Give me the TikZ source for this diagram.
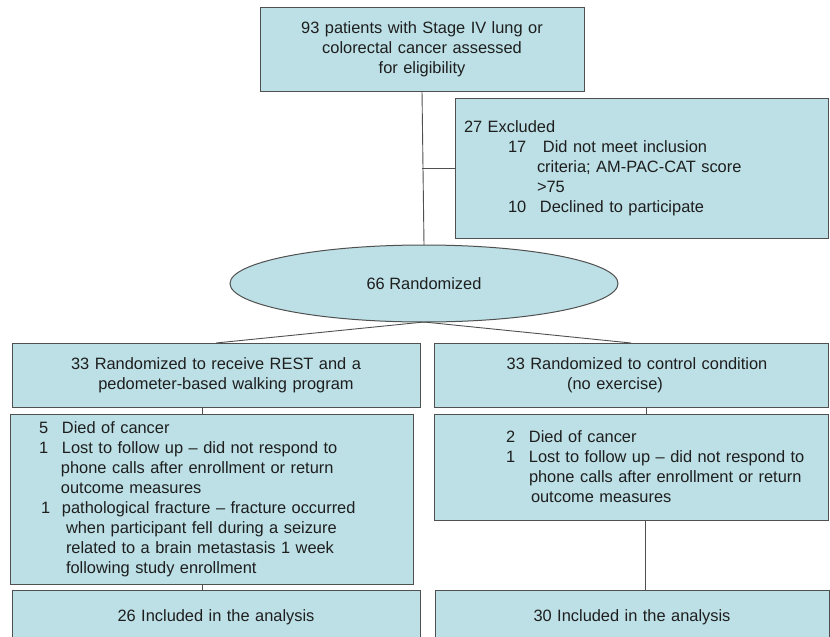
\documentclass[tikz,border=0pt]{standalone}
\usepackage{fontspec}
\setmainfont{Liberation Sans}
\usepackage{tikz}
\usetikzlibrary{shapes.geometric}
\definecolor{boxfill}{RGB}{188,224,230}
\definecolor{boxline}{RGB}{80,80,80}
\definecolor{inktext}{RGB}{30,30,30}

\begin{document}
\begin{tikzpicture}[x=1pt,y=-1pt,
  every node/.style={font=\fontsize{16.4}{20}\selectfont, text=inktext},
  flowbox/.style={draw=boxline, line width=1pt, fill=boxfill, inner xsep=0pt, inner ysep=0pt, outer sep=0pt},
  wire/.style={draw=boxline, line width=0.9pt}]
\useasboundingbox (0,0) rectangle (830,637);
\clip (0,0) rectangle (830,637);
\node [flowbox, text width=324pt, minimum height=84pt, align=center] (top) at (422,49)
  {93 patients with Stage IV lung or\\ colorectal cancer assessed\\ for eligibility};
\node [flowbox, text width=373pt, minimum height=140pt, align=left] (excl) at (641.5,168)
  {\hspace*{9pt}27 Excluded\\
   \hspace*{53pt}\makebox[35pt][l]{17}Did not meet inclusion\\
   \hspace*{82pt}criteria; AM-PAC-CAT score\\
   \hspace*{82pt}>75\\
   \hspace*{53pt}\makebox[32pt][l]{10}Declined to participate};
\node [flowbox, ellipse, minimum width=388pt, minimum height=77pt] (rand) at (424,283.5) {66 Randomized};
\node [flowbox, text width=408pt, minimum height=64pt, align=center] (arm1) at (216,375)
  {33 Randomized to receive REST and a\\ \hspace*{20pt}pedometer-based walking program};
\node [flowbox, text width=394pt, minimum height=64pt, align=center] (arm2) at (631,375)
  {\hspace*{12pt}33 Randomized to control condition\\ (no exercise)\hspace*{32pt}};
\node [flowbox, text width=403pt, minimum height=170pt, align=left] (drop1) at (211.5,499)
  {\hspace*{29pt}\makebox[23pt][l]{5}Died of cancer\\
   \hspace*{29pt}\makebox[23pt][l]{1}Lost to follow up – did not respond to\\
   \hspace*{51pt}phone calls after enrollment or return\\
   \hspace*{51pt}outcome measures\\
   \hspace*{31pt}\makebox[21pt][l]{1}pathological fracture – fracture occurred\\
   \hspace*{56pt}when participant fell during a seizure\\
   \hspace*{56pt}related to a brain metastasis 1 week\\
   \hspace*{56pt}following study enrollment};
\node [flowbox, text width=394pt, minimum height=106pt, align=left] (drop2) at (631,467)
  {\hspace*{72pt}\makebox[23pt][l]{2}Died of cancer\\
   \hspace*{72pt}\makebox[23pt][l]{1}Lost to follow up – did not respond to\\
   \hspace*{95pt}phone calls after enrollment or return\\
   \hspace*{97pt}outcome measures};
\node [flowbox, text width=408pt, minimum height=54pt, align=center] (anal1) at (216,617) {26 Included in the analysis};
\node [flowbox, text width=394pt, minimum height=54pt, align=center] (anal2) at (632,617) {30 Included in the analysis};
\draw [wire] (top.south) -- (rand.north);
\draw [wire] (top.south |- excl.west) -- (excl.west);
\draw [wire] (rand.south) -- (arm1.north);
\draw [wire] (rand.south) -- (arm2.north);
\draw [wire] ([xshift=-9pt]drop1.north) -- ([xshift=-9pt]drop1.north |- arm1.south);
\draw [wire] ([xshift=15pt]drop2.north) -- ([xshift=15pt]drop2.north |- arm2.south);
\draw [wire] ([xshift=-9pt]drop1.south) -- ([xshift=-9pt]drop1.south |- anal1.north);
\draw [wire] ([xshift=14pt]drop2.south) -- ([xshift=14pt]drop2.south |- anal2.north);
\end{tikzpicture}
\end{document}
